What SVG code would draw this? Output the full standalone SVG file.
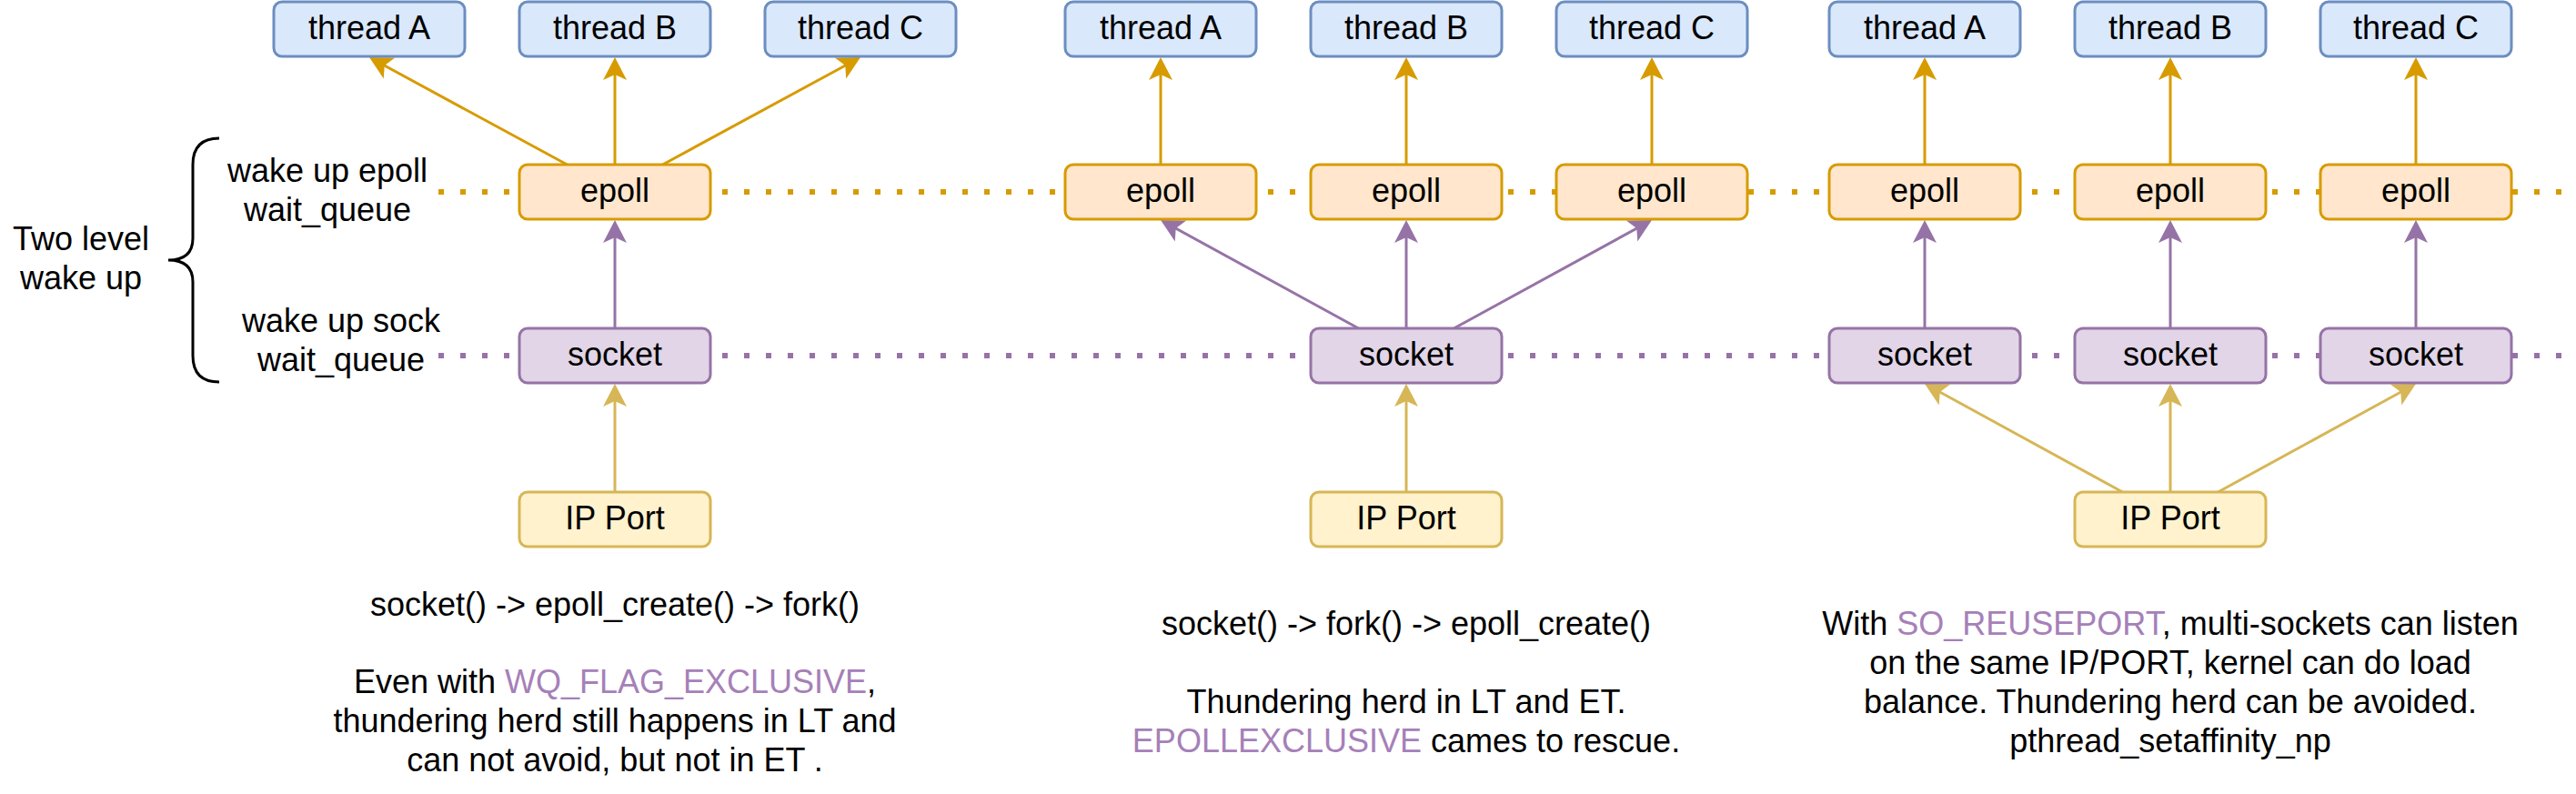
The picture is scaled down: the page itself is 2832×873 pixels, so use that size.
<svg xmlns="http://www.w3.org/2000/svg" width="2832" height="873" viewBox="0 0 2832 873">
<style>
.box{stroke-width:3}
.thread{fill:#dae8fc;stroke:#6c8ebf}
.epoll{fill:#ffe6cc;stroke:#d79b00}
.sock{fill:#e1d5e7;stroke:#9673a6}
.ip{fill:#fff2cc;stroke:#d6b656}
text{font-family:"Liberation Sans",Arial,Helvetica,sans-serif;font-size:36px;fill:#000;text-anchor:middle}
.hl{fill:#A680B8}
.ao{stroke:#d79b00;stroke-width:3;fill:none;marker-end:url(#ah-o)}
.ap{stroke:#9673a6;stroke-width:3;fill:none;marker-end:url(#ah-p)}
.ay{stroke:#d6b656;stroke-width:3;fill:none;marker-end:url(#ah-y)}
.dot-o{stroke:#d79b00;stroke-width:6;stroke-dasharray:6 18;fill:none}
.dot-p{stroke:#9673a6;stroke-width:6;stroke-dasharray:6 18;fill:none}
</style>
<defs>
<marker id="ah-o" markerUnits="userSpaceOnUse" orient="auto" refX="0" refY="0" markerWidth="40" markerHeight="40" overflow="visible"><path d="M10,0 L-15,-13 L-9,0 L-15,13 Z" fill="#d79b00"/></marker>
<marker id="ah-p" markerUnits="userSpaceOnUse" orient="auto" refX="0" refY="0" markerWidth="40" markerHeight="40" overflow="visible"><path d="M10,0 L-15,-13 L-9,0 L-15,13 Z" fill="#9673a6"/></marker>
<marker id="ah-y" markerUnits="userSpaceOnUse" orient="auto" refX="0" refY="0" markerWidth="40" markerHeight="40" overflow="visible"><path d="M10,0 L-15,-13 L-9,0 L-15,13 Z" fill="#d6b656"/></marker>
</defs>
<rect width="2832" height="873" fill="#ffffff"/>

<g id="levels">
<line class="dot-o" x1="482" y1="211" x2="2832" y2="211"/>
<line class="dot-p" x1="482" y1="391" x2="2832" y2="391"/>
</g>

<g id="connectors">
<!-- group 1 -->
<line class="ao" x1="623.5" y1="181" x2="414.8" y2="67.8"/>
<line class="ao" x1="676" y1="181" x2="676" y2="73"/>
<line class="ao" x1="728.5" y1="181" x2="937.2" y2="67.8"/>
<line class="ap" x1="676" y1="361" x2="676" y2="252"/>
<line class="ay" x1="676" y1="541" x2="676" y2="432"/>
<!-- group 2 -->
<line class="ao" x1="1276" y1="181" x2="1276" y2="73"/>
<line class="ao" x1="1546" y1="181" x2="1546" y2="73"/>
<line class="ao" x1="1816" y1="181" x2="1816" y2="73"/>
<line class="ap" x1="1493.5" y1="361" x2="1284.8" y2="246.8"/>
<line class="ap" x1="1546" y1="361" x2="1546" y2="252"/>
<line class="ap" x1="1598.5" y1="361" x2="1807.2" y2="246.8"/>
<line class="ay" x1="1546" y1="541" x2="1546" y2="432"/>
<!-- group 3 -->
<line class="ao" x1="2116" y1="181" x2="2116" y2="73"/>
<line class="ao" x1="2386" y1="181" x2="2386" y2="73"/>
<line class="ao" x1="2656" y1="181" x2="2656" y2="73"/>
<line class="ap" x1="2116" y1="361" x2="2116" y2="252"/>
<line class="ap" x1="2386" y1="361" x2="2386" y2="252"/>
<line class="ap" x1="2656" y1="361" x2="2656" y2="252"/>
<line class="ay" x1="2333.5" y1="541" x2="2124.8" y2="426.8"/>
<line class="ay" x1="2386" y1="541" x2="2386" y2="432"/>
<line class="ay" x1="2438.5" y1="541" x2="2647.2" y2="426.8"/>
</g>

<g id="brace">
<path d="M241,152 Q212,152 212,181 L212,262 Q212,286 185,286 Q212,286 212,310 L212,391 Q212,420 241,420" fill="none" stroke="#000" stroke-width="3"/>
</g>
<g id="label-two-level">
<text x="89" y="275">Two level</text>
<text x="89" y="318">wake up</text>
</g>
<g id="label-epoll-wq">
<text x="360" y="200">wake up epoll</text>
<text x="360" y="243">wait_queue</text>
</g>
<g id="label-sock-wq">
<text x="375" y="365">wake up sock</text>
<text x="375" y="408">wait_queue</text>
</g>

<!-- group 1 nodes -->
<g id="g1-threadA"><rect class="box thread" x="301" y="2" width="210" height="60" rx="9"/><text x="406" y="43">thread A</text></g>
<g id="g1-threadB"><rect class="box thread" x="571" y="2" width="210" height="60" rx="9"/><text x="676" y="43">thread B</text></g>
<g id="g1-threadC"><rect class="box thread" x="841" y="2" width="210" height="60" rx="9"/><text x="946" y="43">thread C</text></g>
<g id="g1-epoll"><rect class="box epoll" x="571" y="181" width="210" height="60" rx="9"/><text x="676" y="222">epoll</text></g>
<g id="g1-socket"><rect class="box sock" x="571" y="361" width="210" height="60" rx="9"/><text x="676" y="402">socket</text></g>
<g id="g1-ipport"><rect class="box ip" x="571" y="541" width="210" height="60" rx="9"/><text x="676" y="582">IP Port</text></g>
<g id="g1-note">
<text x="676" y="677">socket() -&gt; epoll_create() -&gt; fork()</text>
<text x="676" y="762">Even with <tspan class="hl">WQ_FLAG_EXCLUSIVE</tspan>,</text>
<text x="676" y="805">thundering herd still happens in LT and</text>
<text x="676" y="848">can not avoid, but not in ET .</text>
</g>

<!-- group 2 nodes -->
<g id="g2-threadA"><rect class="box thread" x="1171" y="2" width="210" height="60" rx="9"/><text x="1276" y="43">thread A</text></g>
<g id="g2-threadB"><rect class="box thread" x="1441" y="2" width="210" height="60" rx="9"/><text x="1546" y="43">thread B</text></g>
<g id="g2-threadC"><rect class="box thread" x="1711" y="2" width="210" height="60" rx="9"/><text x="1816" y="43">thread C</text></g>
<g id="g2-epollA"><rect class="box epoll" x="1171" y="181" width="210" height="60" rx="9"/><text x="1276" y="222">epoll</text></g>
<g id="g2-epollB"><rect class="box epoll" x="1441" y="181" width="210" height="60" rx="9"/><text x="1546" y="222">epoll</text></g>
<g id="g2-epollC"><rect class="box epoll" x="1711" y="181" width="210" height="60" rx="9"/><text x="1816" y="222">epoll</text></g>
<g id="g2-socket"><rect class="box sock" x="1441" y="361" width="210" height="60" rx="9"/><text x="1546" y="402">socket</text></g>
<g id="g2-ipport"><rect class="box ip" x="1441" y="541" width="210" height="60" rx="9"/><text x="1546" y="582">IP Port</text></g>
<g id="g2-note">
<text x="1546" y="698">socket() -&gt; fork() -&gt; epoll_create()</text>
<text x="1546" y="784">Thundering herd in LT and ET.</text>
<text x="1546" y="827"><tspan class="hl">EPOLLEXCLUSIVE</tspan> cames to rescue.</text>
</g>

<!-- group 3 nodes -->
<g id="g3-threadA"><rect class="box thread" x="2011" y="2" width="210" height="60" rx="9"/><text x="2116" y="43">thread A</text></g>
<g id="g3-threadB"><rect class="box thread" x="2281" y="2" width="210" height="60" rx="9"/><text x="2386" y="43">thread B</text></g>
<g id="g3-threadC"><rect class="box thread" x="2551" y="2" width="210" height="60" rx="9"/><text x="2656" y="43">thread C</text></g>
<g id="g3-epollA"><rect class="box epoll" x="2011" y="181" width="210" height="60" rx="9"/><text x="2116" y="222">epoll</text></g>
<g id="g3-epollB"><rect class="box epoll" x="2281" y="181" width="210" height="60" rx="9"/><text x="2386" y="222">epoll</text></g>
<g id="g3-epollC"><rect class="box epoll" x="2551" y="181" width="210" height="60" rx="9"/><text x="2656" y="222">epoll</text></g>
<g id="g3-socketA"><rect class="box sock" x="2011" y="361" width="210" height="60" rx="9"/><text x="2116" y="402">socket</text></g>
<g id="g3-socketB"><rect class="box sock" x="2281" y="361" width="210" height="60" rx="9"/><text x="2386" y="402">socket</text></g>
<g id="g3-socketC"><rect class="box sock" x="2551" y="361" width="210" height="60" rx="9"/><text x="2656" y="402">socket</text></g>
<g id="g3-ipport"><rect class="box ip" x="2281" y="541" width="210" height="60" rx="9"/><text x="2386" y="582">IP Port</text></g>
<g id="g3-note">
<text x="2386" y="698">With <tspan class="hl">SO_REUSEPORT</tspan>, multi-sockets can listen</text>
<text x="2386" y="741">on the same IP/PORT, kernel can do load</text>
<text x="2386" y="784">balance. Thundering herd can be avoided.</text>
<text x="2386" y="827">pthread_setaffinity_np</text>
</g>
</svg>
